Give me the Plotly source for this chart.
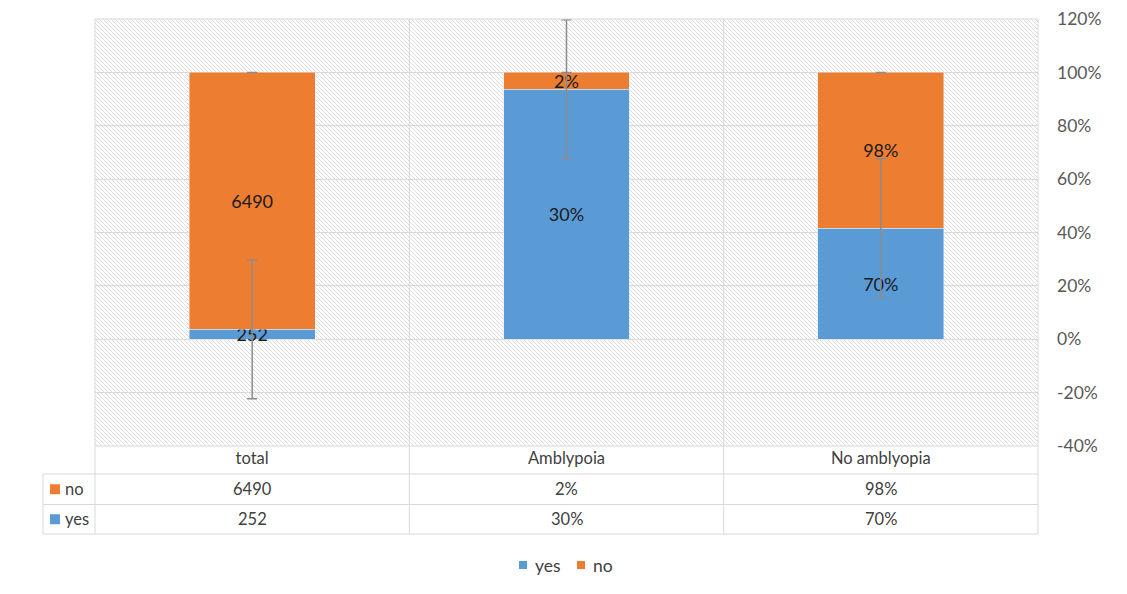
import base64
import plotly.graph_objects as go

# values
categories = ["total", "Amblypoia", "No amblyopia"]
yes_values = [252, 30, 70]
no_values = [6490, 2, 98]
yes_labels = ["252", "30%", "70%"]
no_labels = ["6490", "2%", "98%"]
yes_err = [26, 26, 26]
no_err = [0, 0, 0]
y_ticks = [-40, -20, 0, 20, 40, 60, 80, 100, 120]
y_tick_labels = ["-40%", "-20%", "0%", "20%", "40%", "60%", "80%", "100%", "120%"]

blue = "#5B9BD5"
orange = "#ED7D31"
grid = "#d9d9d9"
font = "Lato, Carlito, Calibri, sans-serif"

# 100% stacked: share of each category total
totals = [y + n for y, n in zip(yes_values, no_values)]
yes_share = [100 * y / t for y, t in zip(yes_values, totals)]
no_share = [100 * n / t for n, t in zip(no_values, totals)]
stack_top = [a + b for a, b in zip(yes_share, no_share)]

fig = go.Figure()
fig.add_trace(go.Bar(x=categories, y=yes_share, name="yes", marker_color=blue,
                     text=yes_labels, textposition="inside", insidetextanchor="middle",
                     constraintext="none", textangle=0,
                     textfont=dict(size=18, color="#1a1a1a", family=font),
                     hoverinfo="skip"))
fig.add_trace(go.Bar(x=categories, y=no_share, name="no", marker_color=orange,
                     text=no_labels, textposition="inside", insidetextanchor="middle",
                     constraintext="none", textangle=0,
                     textfont=dict(size=18, color="#1a1a1a", family=font),
                     hoverinfo="skip"))

# error bars drawn on top of both stacks
err_style = dict(type="data", symmetric=True, color="#8c8c8c", thickness=1.5, width=5)
fig.add_trace(go.Scatter(x=categories, y=yes_share, mode="markers",
                         marker=dict(size=1, opacity=0), showlegend=False, hoverinfo="skip",
                         error_y=dict(array=yes_err, **err_style)))
fig.add_trace(go.Scatter(x=categories, y=stack_top, mode="markers",
                         marker=dict(size=1, opacity=0), showlegend=False, hoverinfo="skip",
                         error_y=dict(array=no_err, **err_style)))

# hatched plot background
svg = ('<svg xmlns="http://www.w3.org/2000/svg" width="943" height="427">'
       '<defs><pattern id="h" width="4" height="4" patternUnits="userSpaceOnUse">'
       '<path d="M-1,-1L5,5M-1,3L1,5M3,-1L5,1" stroke="#dcdcdc" stroke-width="1"/>'
       '</pattern></defs><rect width="100%" height="100%" fill="white"/>'
       '<rect width="100%" height="100%" fill="url(#h)"/></svg>')
bg_src = "data:image/svg+xml;base64," + base64.b64encode(svg.encode()).decode()

# data table under the plot (paper coords, plot bottom = 0)
PW, PH = 943, 427
tbl_left = -52 / PW
y_head = -28 / PH
y_mid = -58.5 / PH
y_bot = -88 / PH
line = dict(color=grid, width=1)
shapes = []
for xv in [0.5, 1.5]:
    shapes.append(dict(type="line", xref="x", yref="paper", x0=xv, x1=xv, y0=y_bot, y1=1, line=line))
for xv in [0, 1]:
    shapes.append(dict(type="line", xref="paper", yref="paper", x0=xv, x1=xv, y0=y_bot, y1=1, line=line))
shapes.append(dict(type="line", xref="paper", yref="paper", x0=tbl_left, x1=tbl_left, y0=y_bot, y1=y_head, line=line))
for yv in [y_head, y_mid, y_bot]:
    shapes.append(dict(type="line", xref="paper", yref="paper", x0=tbl_left, x1=1, y0=yv, y1=yv, line=line))
for yv in [0, 1]:
    shapes.append(dict(type="line", xref="paper", yref="paper", x0=0, x1=1, y0=yv, y1=yv, line=line))

row_labels = [("no", orange, (y_head + y_mid) / 2, no_labels),
              ("yes", blue, (y_mid + y_bot) / 2, yes_labels)]
annotations = []
for name, color, yc, labels in row_labels:
    shapes.append(dict(type="rect", xref="paper", yref="paper",
                       x0=-45 / PW, x1=-35 / PW, y0=yc - 5 / PH, y1=yc + 5 / PH,
                       fillcolor=color, line=dict(width=0)))
    annotations.append(dict(x=-32 / PW, y=yc, xref="paper", yref="paper", text=name,
                            showarrow=False, xanchor="left", yanchor="middle",
                            font=dict(size=16.5, color="#404040", family=font)))
    for cat, lab in zip(categories, labels):
        annotations.append(dict(x=cat, y=yc, xref="x", yref="paper", text=lab,
                                showarrow=False, xanchor="center", yanchor="middle",
                                font=dict(size=16.5, color="#404040", family=font)))

# legend under the table
leg_y = -119 / PH
for name, color, x_key in [("yes", blue, 424), ("no", orange, 482)]:
    shapes.append(dict(type="rect", xref="paper", yref="paper",
                       x0=x_key / PW, x1=(x_key + 8) / PW, y0=leg_y - 4 / PH, y1=leg_y + 4 / PH,
                       fillcolor=color, line=dict(width=0)))
    annotations.append(dict(x=(x_key + 14) / PW, y=leg_y, xref="paper", yref="paper", text=name,
                            showarrow=False, xanchor="left", yanchor="middle",
                            font=dict(size=17.5, color="#404040", family=font)))

fig.update_layout(
    width=1111, height=578, autosize=False,
    margin=dict(l=87, r=81, t=11, b=140),
    barmode="stack", bargap=0.6, showlegend=False,
    paper_bgcolor="white", plot_bgcolor="rgba(0,0,0,0)",
    font=dict(family=font, color="#595959"),
    images=[dict(source=bg_src, xref="paper", yref="paper", x=0, y=1, sizex=1, sizey=1,
                 xanchor="left", yanchor="top", sizing="stretch", layer="below")],
    shapes=shapes, annotations=annotations,
    xaxis=dict(type="category", range=[-0.5, 2.5], showgrid=False, showline=False,
               automargin=False, ticks="",
               tickfont=dict(size=16.5, color="#404040", family=font)),
    yaxis=dict(side="right", range=[-40, 120], tickvals=y_ticks, ticktext=y_tick_labels,
               showgrid=True, gridcolor=grid, gridwidth=1, zeroline=False, showline=False,
               automargin=False, ticks="", ticklabelstandoff=18,
               tickfont=dict(size=17.5, color="#595959", family=font)),
)

fig.write_html("out.html")
